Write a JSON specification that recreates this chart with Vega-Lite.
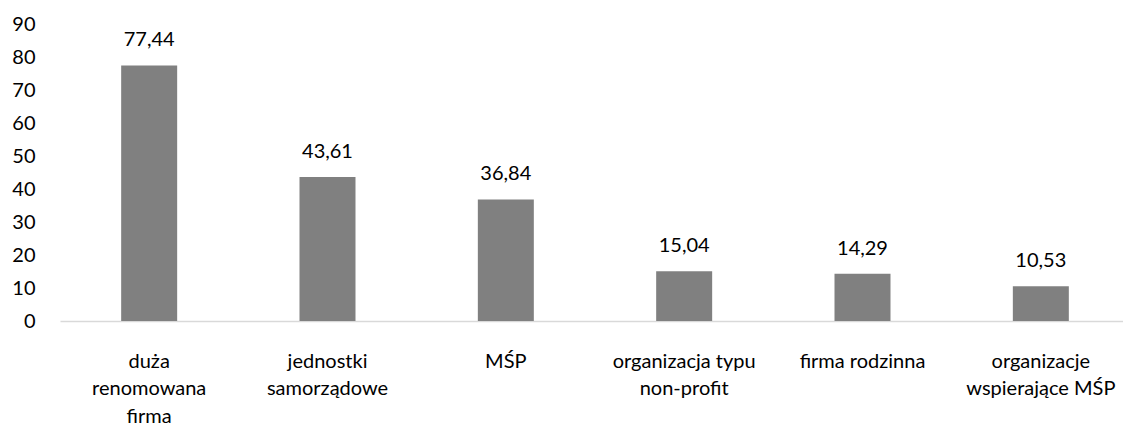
{
  "$schema": "https://vega.github.io/schema/vega-lite/v6.json",
  "autosize": {"type": "none"},
  "padding": {"left": 60, "top": 24, "right": 0, "bottom": 105},
  "width": 1070,
  "height": 297,
  "background": "white",
  "config": {
    "view": {"stroke": null},
    "font": "Lato",
    "locale": {"number": {"decimal": ",", "thousands": " ", "grouping": [3], "currency": ["", " zł"]}}
  },
  "data": {"values": [
    {"kategoria": "duża renomowana firma", "wartosc": 77.44},
    {"kategoria": "jednostki samorządowe", "wartosc": 43.61},
    {"kategoria": "MŚP", "wartosc": 36.84},
    {"kategoria": "organizacja typu non-profit", "wartosc": 15.04},
    {"kategoria": "firma rodzinna", "wartosc": 14.29},
    {"kategoria": "organizacje wspierające MŚP", "wartosc": 10.53}
  ]},
  "encoding": {
    "x": {
      "field": "kategoria", "type": "nominal", "sort": null,
      "scale": {"paddingInner": 0.686, "paddingOuter": 0.343},
      "axis": {
        "title": null, "labelAngle": 0, "ticks": false, "tickSize": 0,
        "domainColor": "#d9d9d9", "domainWidth": 1.5,
        "labelFont": "Lato", "labelFontSize": 20, "labelColor": "#000000",
        "labelBaseline": "alphabetic", "labelPadding": 46, "labelLineHeight": 27.5,
        "labelLimit": 300,
        "labelExpr": "datum.value == 'duża renomowana firma' ? ['duża','renomowana','firma'] : datum.value == 'jednostki samorządowe' ? ['jednostki','samorządowe'] : datum.value == 'organizacja typu non-profit' ? ['organizacja typu','non-profit'] : datum.value == 'organizacje wspierające MŚP' ? ['organizacje','wspierające MŚP'] : datum.value"
      }
    },
    "y": {
      "field": "wartosc", "type": "quantitative",
      "scale": {"domain": [0, 90], "nice": false},
      "axis": {
        "title": null, "values": [0,10,20,30,40,50,60,70,80,90],
        "grid": false, "domain": false, "ticks": false, "tickSize": 0,
        "labelFont": "Lato", "labelFontSize": 20, "labelColor": "#000000",
        "labelPadding": 25
      }
    }
  },
  "layer": [
    {"mark": {"type": "bar", "color": "#808080"}},
    {
      "mark": {"type": "text", "baseline": "alphabetic", "dy": -19, "font": "Lato", "fontSize": 20, "color": "#000000"},
      "encoding": {"text": {"field": "wartosc", "type": "quantitative", "format": ".2f"}}
    }
  ]
}
